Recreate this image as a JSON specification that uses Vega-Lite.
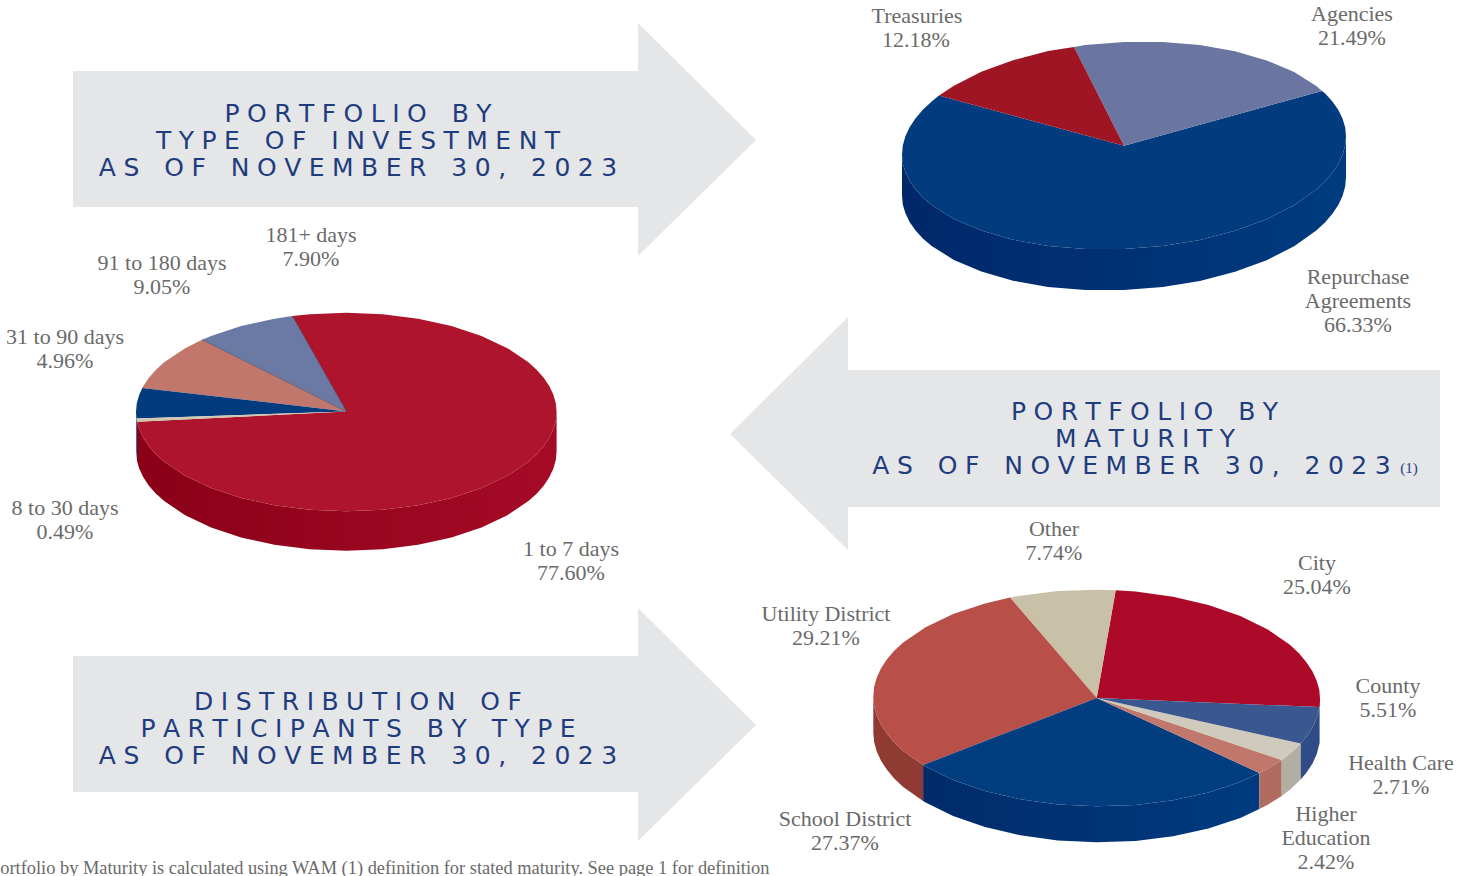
{
"$schema":"https://vega.github.io/schema/vega-lite/v6.json",
"width":1472,"height":876,"padding":0,"autosize":{"type":"none"},"background":"white",
"config":{"view":{"stroke":null}},
"datasets":{
"arrows":[
{"a":"type","i":0,"x":73,"y":71},{"a":"type","i":1,"x":638,"y":71},{"a":"type","i":2,"x":638,"y":23},{"a":"type","i":3,"x":756,"y":140},{"a":"type","i":4,"x":638,"y":256},{"a":"type","i":5,"x":638,"y":207},{"a":"type","i":6,"x":73,"y":207},
{"a":"maturity","i":0,"x":1440,"y":370},{"a":"maturity","i":1,"x":848,"y":370},{"a":"maturity","i":2,"x":848,"y":317},{"a":"maturity","i":3,"x":730,"y":434},{"a":"maturity","i":4,"x":848,"y":550},{"a":"maturity","i":5,"x":848,"y":507},{"a":"maturity","i":6,"x":1440,"y":507},
{"a":"participants","i":0,"x":73,"y":656},{"a":"participants","i":1,"x":638,"y":656},{"a":"participants","i":2,"x":638,"y":608},{"a":"participants","i":3,"x":756,"y":725},{"a":"participants","i":4,"x":638,"y":841},{"a":"participants","i":5,"x":638,"y":792},{"a":"participants","i":6,"x":73,"y":792}
],
"walls":[
{"w":"Repurchase","x":902,"y":154.4,"y2":195.4},{"w":"Repurchase","x":905.4,"y":172.3,"y2":213.3},{"w":"Repurchase","x":915.4,"y":189.3,"y2":230.3},{"w":"Repurchase","x":931.7,"y":205,"y2":246},{"w":"Repurchase","x":953.9,"y":218.9,"y2":259.9},{"w":"Repurchase","x":981.3,"y":230.6,"y2":271.6},{"w":"Repurchase","x":1013,"y":239.7,"y2":280.7},{"w":"Repurchase","x":1048.1,"y":245.9,"y2":286.9},{"w":"Repurchase","x":1085.4,"y":249,"y2":290},{"w":"Repurchase","x":1124,"y":249.1,"y2":290.1},{"w":"Repurchase","x":1162.6,"y":246,"y2":287},{"w":"Repurchase","x":1199.9,"y":239.9,"y2":280.9},{"w":"Repurchase","x":1235,"y":230.7,"y2":271.7},{"w":"Repurchase","x":1266.7,"y":219.2,"y2":260.2},{"w":"Repurchase","x":1294.1,"y":205.3,"y2":246.3},{"w":"Repurchase","x":1316.3,"y":189.6,"y2":230.6},{"w":"Repurchase","x":1332.6,"y":172.5,"y2":213.5},{"w":"Repurchase","x":1342.6,"y":154.7,"y2":195.7},{"w":"Repurchase","x":1346,"y":136.6,"y2":177.6},
{"w":"Repurchase","x":902.8,"y":163.4,"y2":204.4},{"w":"Repurchase","x":909.6,"y":180.9,"y2":221.9},{"w":"Repurchase","x":922.8,"y":197.4,"y2":238.4},{"w":"Repurchase","x":1325.2,"y":181.2,"y2":222.2},{"w":"Repurchase","x":1338.4,"y":163.7,"y2":204.7},{"w":"Repurchase","x":1345.2,"y":145.6,"y2":186.6},
{"w":"1 to 7","x":137,"y":421.7,"y2":461.1},{"w":"1 to 7","x":139.2,"y":429.2,"y2":468.6},{"w":"1 to 7","x":148.7,"y":446,"y2":485.4},{"w":"1 to 7","x":164.2,"y":461.7,"y2":501.1},{"w":"1 to 7","x":185.2,"y":475.8,"y2":515.2},{"w":"1 to 7","x":211.1,"y":488.1,"y2":527.5},{"w":"1 to 7","x":241.1,"y":498,"y2":537.4},{"w":"1 to 7","x":274.4,"y":505.3,"y2":544.7},{"w":"1 to 7","x":309.8,"y":509.8,"y2":549.2},{"w":"1 to 7","x":346.3,"y":511.3,"y2":550.7},{"w":"1 to 7","x":382.8,"y":509.8,"y2":549.2},{"w":"1 to 7","x":418.2,"y":505.3,"y2":544.7},{"w":"1 to 7","x":451.5,"y":498,"y2":537.4},{"w":"1 to 7","x":481.5,"y":488.1,"y2":527.5},{"w":"1 to 7","x":507.4,"y":475.8,"y2":515.2},{"w":"1 to 7","x":528.4,"y":461.7,"y2":501.1},{"w":"1 to 7","x":543.9,"y":446,"y2":485.4},{"w":"1 to 7","x":553.4,"y":429.2,"y2":468.6},{"w":"1 to 7","x":556.6,"y":412,"y2":451.4},
{"w":"1 to 7","x":143.2,"y":437.7,"y2":477.1},{"w":"1 to 7","x":155.7,"y":454,"y2":493.4},{"w":"1 to 7","x":536.9,"y":454,"y2":493.4},{"w":"1 to 7","x":549.4,"y":437.7,"y2":477.1},{"w":"1 to 7","x":555.8,"y":420.7,"y2":460.1},
{"w":"School","x":923.1,"y":765,"y2":801},{"w":"School","x":925.6,"y":766.5,"y2":802.5},{"w":"School","x":953.1,"y":780,"y2":816},{"w":"School","x":985,"y":791.1,"y2":827.1},{"w":"School","x":1020.3,"y":799.3,"y2":835.3},{"w":"School","x":1057.9,"y":804.4,"y2":840.4},{"w":"School","x":1096.7,"y":806.3,"y2":842.3},{"w":"School","x":1135.5,"y":805,"y2":841},{"w":"School","x":1173.1,"y":800.3,"y2":836.3},{"w":"School","x":1208.4,"y":792.5,"y2":828.5},{"w":"School","x":1240.3,"y":782,"y2":818},{"w":"School","x":1259.3,"y":773,"y2":809},
{"w":"31 to 90 side","x":136,"y":412,"y2":451.4},{"w":"31 to 90 side","x":137,"y":421.7,"y2":461.1},
{"w":"Utility side","x":873.3,"y":696.5,"y2":732.5},{"w":"Utility side","x":874.1,"y":705.9,"y2":741.9},{"w":"Utility side","x":876.7,"y":715.3,"y2":751.3},{"w":"Utility side","x":880.9,"y":724.6,"y2":760.6},{"w":"Utility side","x":886.8,"y":733.6,"y2":769.6},{"w":"Utility side","x":894.2,"y":742.4,"y2":778.4},{"w":"Utility side","x":903.2,"y":750.9,"y2":786.9},{"w":"Utility side","x":923.1,"y":765,"y2":801},
{"w":"Higher side","x":1259.3,"y":773,"y2":809},{"w":"Higher side","x":1267.8,"y":768.7,"y2":804.7},{"w":"Higher side","x":1281.7,"y":760,"y2":796},
{"w":"Health side","x":1281.7,"y":760,"y2":796},{"w":"Health side","x":1290.2,"y":753.5,"y2":789.5},{"w":"Health side","x":1300.7,"y":743.6,"y2":779.6},
{"w":"County side","x":1300.7,"y":743.6,"y2":779.6},{"w":"County side","x":1306.6,"y":736.4,"y2":772.4},{"w":"County side","x":1312.5,"y":727.4,"y2":763.4},{"w":"County side","x":1316.7,"y":718.3,"y2":754.3},{"w":"County side","x":1319.6,"y":707.1,"y2":743.1}
],
"slices":[
{"s":"Repurchase Agreements","i":0,"x":1124,"y":145.7},{"s":"Repurchase Agreements","i":1,"x":939,"y":95.6},{"s":"Repurchase Agreements","i":2,"x":931.7,"y":101.4},{"s":"Repurchase Agreements","i":3,"x":915.4,"y":118.5},{"s":"Repurchase Agreements","i":4,"x":905.4,"y":136.3},{"s":"Repurchase Agreements","i":5,"x":902,"y":154.4},{"s":"Repurchase Agreements","i":6,"x":905.4,"y":172.3},{"s":"Repurchase Agreements","i":7,"x":915.4,"y":189.3},{"s":"Repurchase Agreements","i":8,"x":931.7,"y":205},{"s":"Repurchase Agreements","i":9,"x":953.9,"y":218.9},{"s":"Repurchase Agreements","i":10,"x":981.3,"y":230.6},{"s":"Repurchase Agreements","i":11,"x":1013,"y":239.7},{"s":"Repurchase Agreements","i":12,"x":1048.1,"y":245.9},{"s":"Repurchase Agreements","i":13,"x":1085.4,"y":249},{"s":"Repurchase Agreements","i":14,"x":1124,"y":249.1},{"s":"Repurchase Agreements","i":15,"x":1162.6,"y":246},{"s":"Repurchase Agreements","i":16,"x":1199.9,"y":239.9},{"s":"Repurchase Agreements","i":17,"x":1235,"y":230.7},{"s":"Repurchase Agreements","i":18,"x":1266.7,"y":219.2},{"s":"Repurchase Agreements","i":19,"x":1294.1,"y":205.3},{"s":"Repurchase Agreements","i":20,"x":1316.3,"y":189.6},{"s":"Repurchase Agreements","i":21,"x":1332.6,"y":172.5},{"s":"Repurchase Agreements","i":22,"x":1342.6,"y":154.7},{"s":"Repurchase Agreements","i":23,"x":1346,"y":136.6},{"s":"Repurchase Agreements","i":24,"x":1342.6,"y":118.7},{"s":"Repurchase Agreements","i":25,"x":1332.6,"y":101.7},{"s":"Repurchase Agreements","i":26,"x":1322,"y":91},
{"s":"Repurchase Agreements","i":2.5,"x":922.8,"y":109.8},{"s":"Repurchase Agreements","i":3.5,"x":909.6,"y":127.3},{"s":"Repurchase Agreements","i":4.5,"x":902.8,"y":145.4},{"s":"Repurchase Agreements","i":5.5,"x":902.8,"y":163.4},{"s":"Repurchase Agreements","i":6.5,"x":909.6,"y":180.9},{"s":"Repurchase Agreements","i":7.5,"x":922.8,"y":197.4},{"s":"Repurchase Agreements","i":20.5,"x":1325.2,"y":181.2},{"s":"Repurchase Agreements","i":21.5,"x":1338.4,"y":163.7},{"s":"Repurchase Agreements","i":22.5,"x":1345.2,"y":145.6},{"s":"Repurchase Agreements","i":23.5,"x":1345.2,"y":127.6},{"s":"Repurchase Agreements","i":24.5,"x":1338.4,"y":110.1},{"s":"Repurchase Agreements","i":25.5,"x":1325.2,"y":93.6},
{"s":"Agencies","i":0,"x":1124,"y":145.7},{"s":"Agencies","i":1,"x":1322,"y":91},{"s":"Agencies","i":2,"x":1316.3,"y":86},{"s":"Agencies","i":3,"x":1294.1,"y":72.1},{"s":"Agencies","i":4,"x":1266.7,"y":60.4},{"s":"Agencies","i":5,"x":1235,"y":51.3},{"s":"Agencies","i":6,"x":1199.9,"y":45.1},{"s":"Agencies","i":7,"x":1162.6,"y":42},{"s":"Agencies","i":8,"x":1124,"y":41.9},{"s":"Agencies","i":9,"x":1085.4,"y":45},{"s":"Agencies","i":10,"x":1074,"y":47},
{"s":"Treasuries","i":0,"x":1124,"y":145.7},{"s":"Treasuries","i":1,"x":1074,"y":47},{"s":"Treasuries","i":2,"x":1048.1,"y":51.1},{"s":"Treasuries","i":3,"x":1013,"y":60.3},{"s":"Treasuries","i":4,"x":981.3,"y":71.8},{"s":"Treasuries","i":5,"x":953.9,"y":85.7},{"s":"Treasuries","i":6,"x":939,"y":95.6},
{"s":"1 to 7 days","i":0,"x":346.3,"y":411.5},{"s":"1 to 7 days","i":1,"x":137,"y":421.7},{"s":"1 to 7 days","i":2,"x":139.2,"y":429.2},{"s":"1 to 7 days","i":3,"x":148.7,"y":446},{"s":"1 to 7 days","i":4,"x":164.2,"y":461.7},{"s":"1 to 7 days","i":5,"x":185.2,"y":475.8},{"s":"1 to 7 days","i":6,"x":211.1,"y":488.1},{"s":"1 to 7 days","i":7,"x":241.1,"y":498},{"s":"1 to 7 days","i":8,"x":274.4,"y":505.3},{"s":"1 to 7 days","i":9,"x":309.8,"y":509.8},{"s":"1 to 7 days","i":10,"x":346.3,"y":511.3},{"s":"1 to 7 days","i":11,"x":382.8,"y":509.8},{"s":"1 to 7 days","i":12,"x":418.2,"y":505.3},{"s":"1 to 7 days","i":13,"x":451.5,"y":498},{"s":"1 to 7 days","i":14,"x":481.5,"y":488.1},{"s":"1 to 7 days","i":15,"x":507.4,"y":475.8},{"s":"1 to 7 days","i":16,"x":528.4,"y":461.7},{"s":"1 to 7 days","i":17,"x":543.9,"y":446},{"s":"1 to 7 days","i":18,"x":553.4,"y":429.2},{"s":"1 to 7 days","i":19,"x":556.6,"y":412},{"s":"1 to 7 days","i":20,"x":553.4,"y":394.8},{"s":"1 to 7 days","i":21,"x":543.9,"y":378},{"s":"1 to 7 days","i":22,"x":528.4,"y":362.3},{"s":"1 to 7 days","i":23,"x":507.4,"y":348.2},{"s":"1 to 7 days","i":24,"x":481.5,"y":335.9},{"s":"1 to 7 days","i":25,"x":451.5,"y":326},{"s":"1 to 7 days","i":26,"x":418.2,"y":318.7},{"s":"1 to 7 days","i":27,"x":382.8,"y":314.2},{"s":"1 to 7 days","i":28,"x":346.3,"y":312.7},{"s":"1 to 7 days","i":29,"x":309.8,"y":314.2},{"s":"1 to 7 days","i":30,"x":292.3,"y":316},
{"s":"1 to 7 days","i":2.5,"x":143.2,"y":437.7},{"s":"1 to 7 days","i":3.5,"x":155.7,"y":454},{"s":"1 to 7 days","i":16.5,"x":536.9,"y":454},{"s":"1 to 7 days","i":17.5,"x":549.4,"y":437.7},{"s":"1 to 7 days","i":18.5,"x":555.8,"y":420.7},{"s":"1 to 7 days","i":19.5,"x":555.8,"y":403.3},{"s":"1 to 7 days","i":20.5,"x":549.4,"y":386.3},{"s":"1 to 7 days","i":21.5,"x":536.9,"y":370},
{"s":"181+ days","i":0,"x":346.3,"y":411.5},{"s":"181+ days","i":1,"x":292.3,"y":316},{"s":"181+ days","i":2,"x":274.4,"y":318.7},{"s":"181+ days","i":3,"x":241.1,"y":326},{"s":"181+ days","i":4,"x":211.1,"y":335.9},{"s":"181+ days","i":5,"x":202,"y":339.7},
{"s":"91 to 180 days","i":0,"x":346.3,"y":411.5},{"s":"91 to 180 days","i":1,"x":202,"y":339.7},{"s":"91 to 180 days","i":2,"x":185.2,"y":348.2},{"s":"91 to 180 days","i":3,"x":164.2,"y":362.3},{"s":"91 to 180 days","i":3.5,"x":155.7,"y":370},{"s":"91 to 180 days","i":4,"x":148.7,"y":378},{"s":"91 to 180 days","i":4.5,"x":143.2,"y":386.3},{"s":"91 to 180 days","i":5,"x":142.3,"y":388},
{"s":"31 to 90 days","i":0,"x":346.3,"y":411.5},{"s":"31 to 90 days","i":1,"x":142.3,"y":388},{"s":"31 to 90 days","i":2,"x":139.2,"y":394.8},{"s":"31 to 90 days","i":2.5,"x":136.8,"y":403.3},{"s":"31 to 90 days","i":3,"x":136,"y":412},{"s":"31 to 90 days","i":4,"x":136.5,"y":418.6},
{"s":"8 to 30 days","i":0,"x":346.3,"y":411.5},{"s":"8 to 30 days","i":1,"x":136.5,"y":418.6},{"s":"8 to 30 days","i":2,"x":137,"y":421.7},
{"s":"City","i":0,"x":1096.7,"y":698},{"s":"City","i":1,"x":1319.6,"y":707.1},{"s":"City","i":2,"x":1320.1,"y":699.5},{"s":"City","i":2.5,"x":1319.3,"y":690.1},{"s":"City","i":3,"x":1316.7,"y":680.7},{"s":"City","i":3.5,"x":1312.5,"y":671.4},{"s":"City","i":4,"x":1306.6,"y":662.4},{"s":"City","i":4.5,"x":1299.2,"y":653.6},{"s":"City","i":5,"x":1290.2,"y":645.1},{"s":"City","i":6,"x":1267.8,"y":629.5},{"s":"City","i":7,"x":1240.3,"y":616},{"s":"City","i":8,"x":1208.4,"y":605},{"s":"City","i":9,"x":1173.1,"y":596.7},{"s":"City","i":10,"x":1135.5,"y":591.6},{"s":"City","i":11,"x":1115.7,"y":590.2},
{"s":"Other","i":0,"x":1096.7,"y":698},{"s":"Other","i":1,"x":1115.7,"y":590.2},{"s":"Other","i":2,"x":1096.7,"y":589.7},{"s":"Other","i":3,"x":1057.9,"y":591},{"s":"Other","i":4,"x":1020.3,"y":595.7},{"s":"Other","i":5,"x":1010,"y":597.6},
{"s":"Utility District","i":0,"x":1096.7,"y":698},{"s":"Utility District","i":1,"x":1010,"y":597.6},{"s":"Utility District","i":2,"x":985,"y":603.5},{"s":"Utility District","i":3,"x":953.1,"y":614},{"s":"Utility District","i":4,"x":925.6,"y":627.3},{"s":"Utility District","i":5,"x":903.2,"y":642.5},{"s":"Utility District","i":5.5,"x":894.2,"y":650.8},{"s":"Utility District","i":6,"x":886.8,"y":659.6},{"s":"Utility District","i":6.5,"x":880.9,"y":668.6},{"s":"Utility District","i":7,"x":876.7,"y":677.7},{"s":"Utility District","i":7.5,"x":874.1,"y":687.1},{"s":"Utility District","i":8,"x":873.3,"y":696.5},{"s":"Utility District","i":8.5,"x":874.1,"y":705.9},{"s":"Utility District","i":9,"x":876.7,"y":715.3},{"s":"Utility District","i":9.5,"x":880.9,"y":724.6},{"s":"Utility District","i":10,"x":886.8,"y":733.6},{"s":"Utility District","i":10.5,"x":894.2,"y":742.4},{"s":"Utility District","i":11,"x":903.2,"y":750.9},{"s":"Utility District","i":12,"x":923.1,"y":765},
{"s":"School District","i":0,"x":1096.7,"y":698},{"s":"School District","i":1,"x":923.1,"y":765},{"s":"School District","i":2,"x":925.6,"y":766.5},{"s":"School District","i":3,"x":953.1,"y":780},{"s":"School District","i":4,"x":985,"y":791.1},{"s":"School District","i":5,"x":1020.3,"y":799.3},{"s":"School District","i":6,"x":1057.9,"y":804.4},{"s":"School District","i":7,"x":1096.7,"y":806.3},{"s":"School District","i":8,"x":1135.5,"y":805},{"s":"School District","i":9,"x":1173.1,"y":800.3},{"s":"School District","i":10,"x":1208.4,"y":792.5},{"s":"School District","i":11,"x":1240.3,"y":782},{"s":"School District","i":12,"x":1259.3,"y":773},
{"s":"Higher Education","i":0,"x":1096.7,"y":698},{"s":"Higher Education","i":1,"x":1259.3,"y":773},{"s":"Higher Education","i":2,"x":1267.8,"y":768.7},{"s":"Higher Education","i":3,"x":1281.7,"y":760},
{"s":"Health Care","i":0,"x":1096.7,"y":698},{"s":"Health Care","i":1,"x":1281.7,"y":760},{"s":"Health Care","i":2,"x":1290.2,"y":753.5},{"s":"Health Care","i":3,"x":1300.7,"y":743.6},
{"s":"County","i":0,"x":1096.7,"y":698},{"s":"County","i":1,"x":1300.7,"y":743.6},{"s":"County","i":2,"x":1306.6,"y":736.4},{"s":"County","i":2.5,"x":1312.5,"y":727.4},{"s":"County","i":3,"x":1316.7,"y":718.3},{"s":"County","i":4,"x":1319.6,"y":707.1}
],
"edges":[
{"e":"a","x":346.3,"y":411.5},{"e":"a","x":292.3,"y":316},
{"e":"b","x":346.3,"y":411.5},{"e":"b","x":202,"y":339.7}
],
"labels":[
{"t":"Treasuries","x":917,"y":23},{"t":"12.18%","x":916,"y":47},
{"t":"Agencies","x":1352,"y":21},{"t":"21.49%","x":1352,"y":45},
{"t":"Repurchase","x":1358,"y":284},{"t":"Agreements","x":1358,"y":308},{"t":"66.33%","x":1358,"y":332},
{"t":"181+ days","x":311,"y":242},{"t":"7.90%","x":311,"y":266},
{"t":"91 to 180 days","x":162,"y":270},{"t":"9.05%","x":162,"y":294},
{"t":"31 to 90 days","x":65,"y":344},{"t":"4.96%","x":65,"y":368},
{"t":"8 to 30 days","x":65,"y":515},{"t":"0.49%","x":65,"y":539},
{"t":"1 to 7 days","x":571,"y":556},{"t":"77.60%","x":571,"y":580},
{"t":"Other","x":1054,"y":536},{"t":"7.74%","x":1054,"y":560},
{"t":"City","x":1317,"y":570},{"t":"25.04%","x":1317,"y":594},
{"t":"Utility District","x":826,"y":621},{"t":"29.21%","x":826,"y":645},
{"t":"County","x":1388,"y":693},{"t":"5.51%","x":1388,"y":717},
{"t":"Health Care","x":1401,"y":770},{"t":"2.71%","x":1401,"y":794},
{"t":"School District","x":845,"y":826},{"t":"27.37%","x":845,"y":850},
{"t":"Higher","x":1326,"y":821},{"t":"Education","x":1326,"y":845},{"t":"2.42%","x":1326,"y":869}
],
"titles":[
{"t":"P\u2009\u200aO\u2009\u200aR\u2009\u200aT\u2009\u200aF\u2009\u200aO\u2009\u200aL\u2009\u200aI\u2009\u200aO\u2003B\u2009\u200aY","x":358,"y":122},
{"t":"T\u2009\u200aY\u2009\u200aP\u2009\u200aE\u2003O\u2009\u200aF\u2003I\u2009\u200aN\u2009\u200aV\u2009\u200aE\u2009\u200aS\u2009\u200aT\u2009\u200aM\u2009\u200aE\u2009\u200aN\u2009\u200aT","x":358,"y":149},
{"t":"A\u2009\u200aS\u2003O\u2009\u200aF\u2003N\u2009\u200aO\u2009\u200aV\u2009\u200aE\u2009\u200aM\u2009\u200aB\u2009\u200aE\u2009\u200aR\u20033\u2009\u200a0\u2009\u200a,\u20032\u2009\u200a0\u2009\u200a2\u2009\u200a3","x":358,"y":176},
{"t":"P\u2009\u200aO\u2009\u200aR\u2009\u200aT\u2009\u200aF\u2009\u200aO\u2009\u200aL\u2009\u200aI\u2009\u200aO\u2003B\u2009\u200aY","x":1144.5,"y":420},
{"t":"M\u2009\u200aA\u2009\u200aT\u2009\u200aU\u2009\u200aR\u2009\u200aI\u2009\u200aT\u2009\u200aY","x":1145,"y":447},
{"t":"A\u2009\u200aS\u2003O\u2009\u200aF\u2003N\u2009\u200aO\u2009\u200aV\u2009\u200aE\u2009\u200aM\u2009\u200aB\u2009\u200aE\u2009\u200aR\u20033\u2009\u200a0\u2009\u200a,\u20032\u2009\u200a0\u2009\u200a2\u2009\u200a3","x":1131.5,"y":474},
{"t":"D\u2009\u200aI\u2009\u200aS\u2009\u200aT\u2009\u200aR\u2009\u200aI\u2009\u200aB\u2009\u200aU\u2009\u200aT\u2009\u200aI\u2009\u200aO\u2009\u200aN\u2003O\u2009\u200aF","x":358,"y":709.5},
{"t":"P\u2009\u200aA\u2009\u200aR\u2009\u200aT\u2009\u200aI\u2009\u200aC\u2009\u200aI\u2009\u200aP\u2009\u200aA\u2009\u200aN\u2009\u200aT\u2009\u200aS\u2003B\u2009\u200aY\u2003T\u2009\u200aY\u2009\u200aP\u2009\u200aE","x":358,"y":736.5},
{"t":"A\u2009\u200aS\u2003O\u2009\u200aF\u2003N\u2009\u200aO\u2009\u200aV\u2009\u200aE\u2009\u200aM\u2009\u200aB\u2009\u200aE\u2009\u200aR\u20033\u2009\u200a0\u2009\u200a,\u20032\u2009\u200a0\u2009\u200a2\u2009\u200a3","x":358,"y":763.5}
]
},
"encoding":{
"x":{"field":"x","type":"quantitative","axis":null,"scale":{"domain":[0,1472],"range":[0,1472],"nice":false,"zero":false}},
"y":{"field":"y","type":"quantitative","axis":null,"scale":{"domain":[0,876],"range":[0,876],"nice":false,"zero":false}}
},
"layer":[
{"data":{"name":"arrows"},"mark":{"type":"line","filled":true,"interpolate":"linear-closed","color":"#e5e6e8"},"encoding":{"detail":{"field":"a"},"order":{"field":"i","type":"quantitative"}}},
{"data":{"name":"walls"},"transform":[{"filter":"datum.w=='Repurchase'"}],"mark":{"type":"area","color":{"gradient":"linear","x1":0,"x2":1,"y1":0,"y2":0,"stops":[{"offset":0,"color":"#00286a"},{"offset":1,"color":"#003b80"}]}},"encoding":{"y2":{"field":"y2"}}},
{"data":{"name":"walls"},"transform":[{"filter":"datum.w=='1 to 7'"}],"mark":{"type":"area","color":{"gradient":"linear","x1":0,"x2":1,"y1":0,"y2":0,"stops":[{"offset":0,"color":"#8a0016"},{"offset":1,"color":"#a60a26"}]}},"encoding":{"y2":{"field":"y2"}}},
{"data":{"name":"walls"},"transform":[{"filter":"datum.w=='School'"}],"mark":{"type":"area","color":{"gradient":"linear","x1":0,"x2":1,"y1":0,"y2":0,"stops":[{"offset":0,"color":"#002b6b"},{"offset":1,"color":"#003b80"}]}},"encoding":{"y2":{"field":"y2"}}},
{"data":{"name":"walls"},"transform":[{"filter":"indexof(datum.w,' side')>0"}],"mark":{"type":"area"},"encoding":{"y2":{"field":"y2"},"color":{"field":"w","type":"nominal","legend":null,"scale":{"domain":["31 to 90 side","Utility side","Higher side","Health side","County side"],"range":["#4a6a90","#8f3a33","#b06c60","#b3aea2","#2f4c86"]}}}},
{"data":{"name":"slices"},"mark":{"type":"line","filled":true,"interpolate":"linear-closed"},"encoding":{"order":{"field":"i","type":"quantitative"},"fill":{"field":"s","type":"nominal","legend":null,"scale":{"domain":["Repurchase Agreements","Agencies","Treasuries","1 to 7 days","181+ days","91 to 180 days","31 to 90 days","8 to 30 days","City","Other","Utility District","School District","Higher Education","Health Care","County"],"range":["#023c7e","#6a76a1","#a01524","#ae152c","#6a7aa5","#c1776b","#023c7e","#d0c9b0","#ad0a2a","#c9c0a8","#b84f48","#023d80","#c1776b","#cfcabc","#3a5790"]}}}},
{"data":{"name":"edges"},"mark":{"type":"line","color":"#3a3a55","strokeWidth":0.7,"opacity":0.8},"encoding":{"detail":{"field":"e"}}},
{"data":{"name":"labels"},"mark":{"type":"text","font":"Liberation Serif","fontSize":22,"color":"#6a6a6a","align":"center","baseline":"alphabetic"},"encoding":{"text":{"field":"t"}}},
{"data":{"name":"titles"},"mark":{"type":"text","font":"DejaVu Sans","fontSize":25,"color":"#1f3c7f","align":"center","baseline":"alphabetic"},"encoding":{"text":{"field":"t"}}},
{"data":{"values":[{"t":"(1)","x":1409,"y":473}]},"mark":{"type":"text","font":"Liberation Serif","fontSize":15,"color":"#1f3c7f","align":"center","baseline":"alphabetic"},"encoding":{"text":{"field":"t"}}},
{"data":{"values":[{"t":"Portfolio by Maturity is calculated using WAM (1) definition for stated maturity. See page 1 for definition","x":-10,"y":874}]},"mark":{"type":"text","font":"Liberation Serif","fontSize":18.4,"color":"#6a6a6a","align":"left","baseline":"alphabetic"},"encoding":{"text":{"field":"t"}}}
]
}
